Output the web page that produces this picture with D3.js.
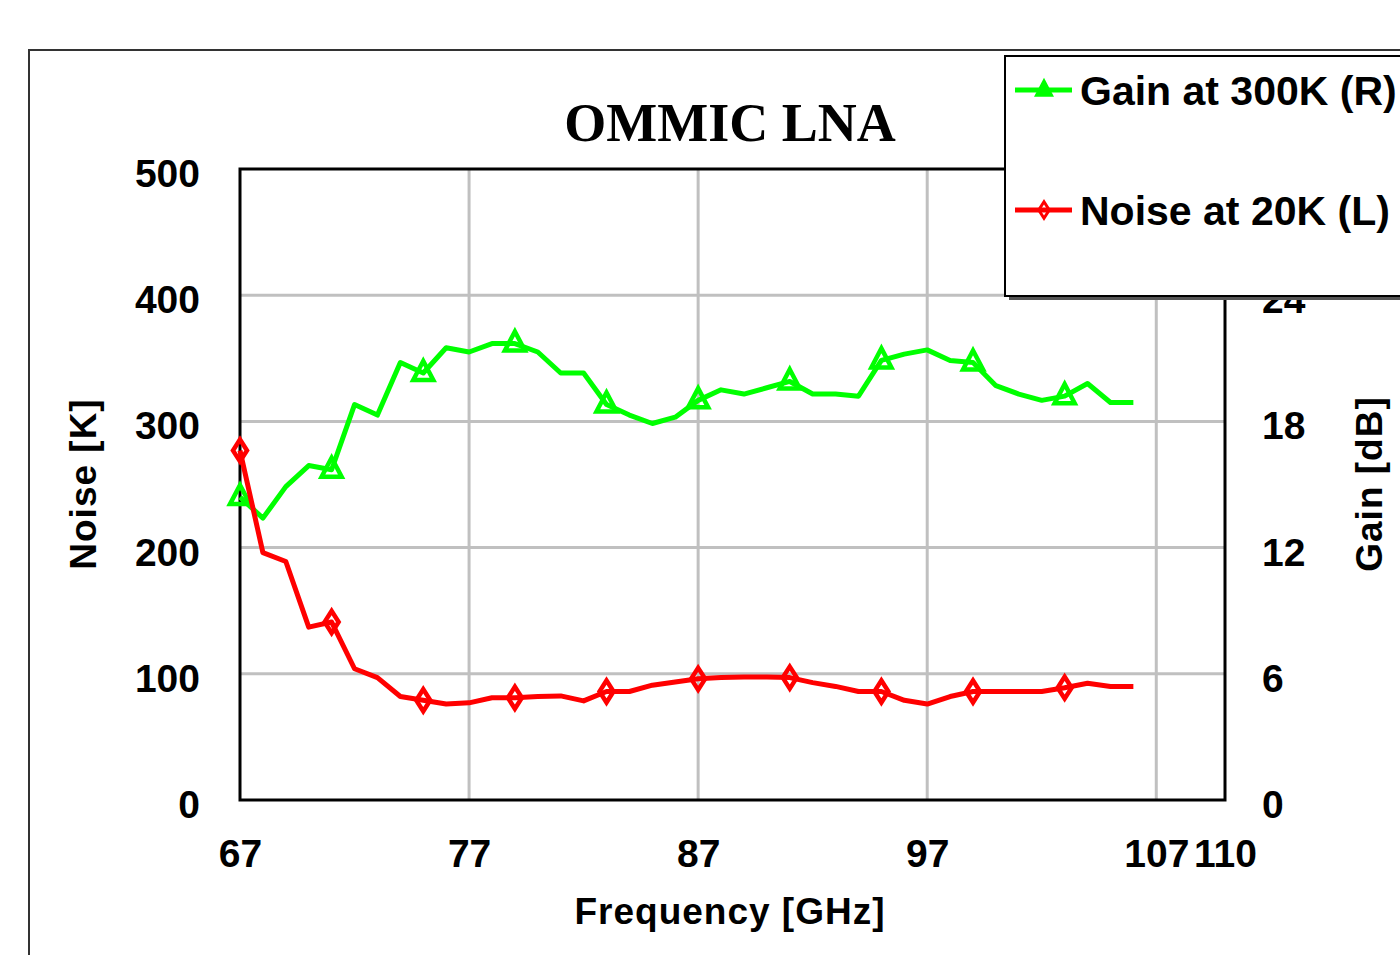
<!DOCTYPE html>
<html>
<head>
<meta charset="utf-8">
<script src="https://cdn.jsdelivr.net/npm/d3@7"></script>
<style>
  html, body { margin: 0; padding: 0; background: #fff; overflow: hidden; }
  svg { display: block; }
</style>
</head>
<body>
<svg id="chart" width="1400" height="955"></svg>
<script>
// ---- data ----
const frequency = [67,68,69,70,71,72,73,74,75,76,77,78,79,80,81,82,83,84,85,86,
                   87,88,89,90,91,92,93,94,95,96,97,98,99,100,101,102,103,104,105,106];
const gain300K = [14.4,13.4,14.9,15.9,15.7,18.8,18.3,20.8,20.3,21.5,21.3,21.7,21.7,21.3,20.3,20.3,18.8,18.3,17.9,18.2,
                  19.0,19.5,19.3,19.6,19.9,19.3,19.3,19.2,20.9,21.2,21.4,20.9,20.8,19.7,19.3,19.0,19.2,19.8,18.9,18.9];
const noise20K = [277,196,189,137,141,104,97,82,79,76,77,81,81,82,82.5,78.5,86,86,91,93.5,
                  96,97,97.5,97.5,97,93,90,86,86,79,76,82,86,86,86,86,89,92.5,90,90];
const xTicks = [67,77,87,97,107,110];
const noiseTicks = [0,100,200,300,400,500];
const gainTicks = [0,6,12,18,24];
const titleText = "OMMIC LNA";
const xTitle = "Frequency [GHz]";
const yLeftTitle = "Noise [K]";
const yRightTitle = "Gain [dB]";
const legendLabels = ["Gain at 300K (R)", "Noise at 20K (L)"];

// ---- layout ----
const svg = d3.select("#chart");
const plot = {left: 240, right: 1225, top: 169, bottom: 800};
const green = "#00ff00", red = "#ff0000";
const font = "'Liberation Sans', Arial, sans-serif";

const x = d3.scaleLinear().domain([67,110]).range([plot.left, plot.right]);
const yL = d3.scaleLinear().domain([0,500]).range([plot.bottom, plot.top]);
const yR = d3.scaleLinear().domain([0,30]).range([plot.bottom, plot.top]);

// outer chart frame
svg.append("rect").attr("x",29).attr("y",50).attr("width",1500).attr("height",1000)
  .attr("fill","#fff").attr("stroke","#333").attr("stroke-width",2);

// title
svg.append("text").attr("x",730).attr("y",141).attr("text-anchor","middle")
  .attr("font-family","'Liberation Serif', 'Times New Roman', serif").attr("font-weight","bold")
  .attr("font-size",54).text(titleText);

// grid
const grid = svg.append("g");
grid.selectAll("line.v").data(xTicks.filter(d => d>67 && d<110)).join("line")
  .attr("x1",d=>x(d)).attr("x2",d=>x(d)).attr("y1",plot.top).attr("y2",plot.bottom)
  .attr("stroke","#c0c0c0").attr("stroke-width",3);
grid.selectAll("line.h").data(noiseTicks.filter(d => d>0 && d<500)).join("line")
  .attr("x1",plot.left).attr("x2",plot.right).attr("y1",d=>yL(d)).attr("y2",d=>yL(d))
  .attr("stroke","#c0c0c0").attr("stroke-width",3);

// plot border
svg.append("rect").attr("x",plot.left).attr("y",plot.top)
  .attr("width",plot.right-plot.left).attr("height",plot.bottom-plot.top)
  .attr("fill","none").attr("stroke","#000").attr("stroke-width",3);

// axes (D3 axes, tick lines hidden)
const styleAxis = g => {
  g.select(".domain").remove();
  g.selectAll(".tick line").remove();
  g.selectAll(".tick text").attr("font-family",font).attr("font-weight","bold")
    .attr("font-size",39).attr("fill","#000");
};
svg.append("g").attr("transform",`translate(0,${plot.bottom})`)
  .call(d3.axisBottom(x).tickValues(xTicks).tickFormat(d3.format("d")).tickSize(0).tickPadding(39))
  .call(styleAxis);
svg.append("g").attr("transform",`translate(${plot.left},0)`)
  .call(d3.axisLeft(yL).tickValues(noiseTicks).tickSize(0).tickPadding(40))
  .call(styleAxis)
  .call(g => g.selectAll(".tick text").attr("dy","0.45em"));
svg.append("g").attr("transform",`translate(${plot.right},0)`)
  .call(d3.axisRight(yR).tickValues(gainTicks).tickSize(0).tickPadding(37))
  .call(styleAxis)
  .call(g => g.selectAll(".tick text").attr("dy","0.45em"));

// axis titles
svg.append("text").attr("x",730).attr("y",924).attr("text-anchor","middle")
  .attr("font-family",font).attr("font-weight","bold").attr("font-size",37)
  .attr("letter-spacing",1).text(xTitle);
svg.append("text").attr("transform","translate(96,484) rotate(-90)").attr("text-anchor","middle")
  .attr("font-family",font).attr("font-weight","bold").attr("font-size",37)
  .attr("letter-spacing",1).text(yLeftTitle);
svg.append("text").attr("transform","translate(1382,484) rotate(-90)").attr("text-anchor","middle")
  .attr("font-family",font).attr("font-weight","bold").attr("font-size",37)
  .attr("letter-spacing",1).text(yRightTitle);

// series
const gainData = frequency.map((f,i)=>({f, v: gain300K[i], i}));
const noiseData = frequency.map((f,i)=>({f, v: noise20K[i], i}));

const triPath = "M0,-12 L10,7 L-10,7 Z";
const diaPath = "M0,-11 L7,0 L0,11 L-7,0 Z";

svg.append("path").datum(gainData)
  .attr("d", d3.line().x(d=>x(d.f)).y(d=>yR(d.v)))
  .attr("fill","none").attr("stroke",green).attr("stroke-width",5).attr("stroke-linejoin","round");
svg.append("g").selectAll("path").data(gainData.filter(d=>d.i%4===0)).join("path")
  .attr("transform",d=>`translate(${x(d.f)},${yR(d.v)})`).attr("d",triPath)
  .attr("fill","none").attr("stroke",green).attr("stroke-width",4.5);

svg.append("path").datum(noiseData)
  .attr("d", d3.line().x(d=>x(d.f)).y(d=>yL(d.v)))
  .attr("fill","none").attr("stroke",red).attr("stroke-width",5).attr("stroke-linejoin","round");
svg.append("g").selectAll("path").data(noiseData.filter(d=>d.i%4===0)).join("path")
  .attr("transform",d=>`translate(${x(d.f)},${yL(d.v)})`).attr("d",diaPath)
  .attr("fill","none").attr("stroke",red).attr("stroke-width",4.5);

// legend
const lg = svg.append("g");
lg.append("rect").attr("x",1009).attr("y",60).attr("width",500).attr("height",240).attr("fill","#555");
lg.append("rect").attr("x",1005).attr("y",56).attr("width",500).attr("height",240)
  .attr("fill","#fff").attr("stroke","#000").attr("stroke-width",2);
const legItems = [
  {label: legendLabels[0], color: green, shape: triPath, y: 90},
  {label: legendLabels[1], color: red, shape: diaPath, y: 210}
];
legItems.forEach(it => {
  lg.append("line").attr("x1",1015).attr("x2",1072).attr("y1",it.y).attr("y2",it.y)
    .attr("stroke",it.color).attr("stroke-width",5);
  lg.append("path").attr("transform",`translate(1044,${it.y}) scale(0.75)`).attr("d",it.shape)
    .attr("fill",it.color===green?green:"none").attr("stroke",it.color).attr("stroke-width",4);
  lg.append("text").attr("x",1080).attr("y",it.y+15).attr("font-family",font)
    .attr("font-weight","bold").attr("font-size",41).text(it.label);
});
</script>
</body>
</html>
